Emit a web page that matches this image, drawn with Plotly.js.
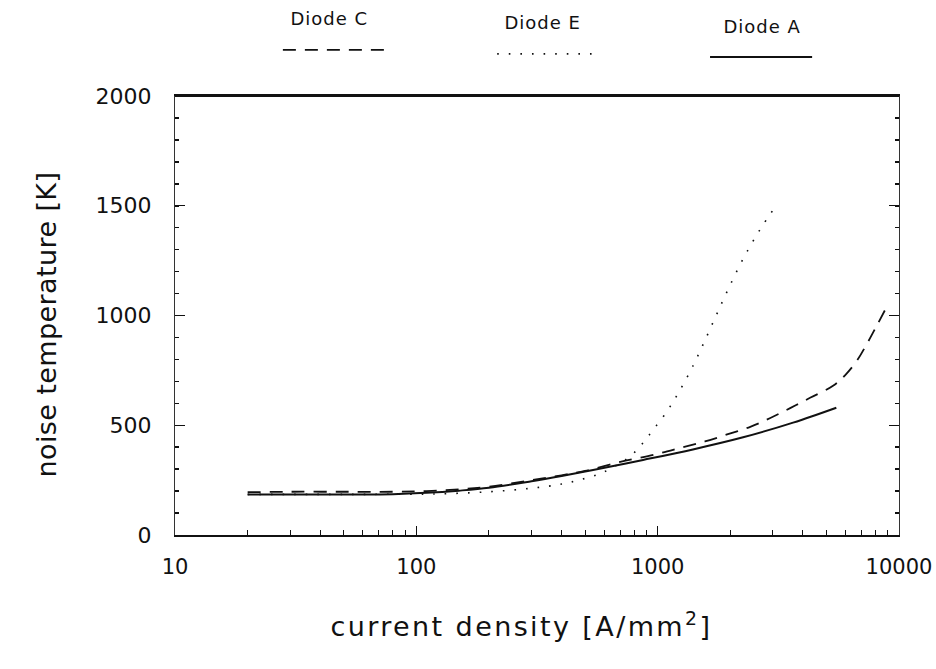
<!DOCTYPE html>
<html>
<head>
<meta charset="utf-8">
<script src="https://cdn.plot.ly/plotly-3.0.1.min.js"></script>
<style>
  html, body { margin: 0; padding: 0; background: #fff; }
  #chart { width: 936px; height: 669px; }
</style>
</head>
<body>
<div id="chart"></div>
<script>
// ---- data ----
const seriesNames = ["Diode C", "Diode E", "Diode A"];

const diodeC_x = [20, 30, 50, 80, 110, 150, 200, 300, 400, 500, 700, 1000, 1270, 1570, 1940, 2420, 2930, 3540, 4280, 5330, 6000, 6700, 7400, 8100, 8900];
const diodeC_y = [195, 197, 197, 197, 200, 208, 220, 250, 272, 292, 333, 370, 400, 426, 458, 493, 533, 578, 625, 680, 730, 795, 875, 955, 1040];

const diodeE_x = [20, 50, 100, 124, 200, 300, 400, 475, 585, 700, 780, 840, 900, 975, 1100, 1230, 1400, 1560, 1755, 1960, 2265, 2650, 3075];
const diodeE_y = [185, 185, 186, 187, 197, 213, 232, 251, 282, 328, 364, 400, 440, 490, 568, 655, 770, 880, 1005, 1120, 1260, 1390, 1496];

const diodeA_x = [20, 30, 50, 80, 110, 150, 200, 300, 400, 540, 870, 1400, 2260, 3640, 5500];
const diodeA_y = [185, 185, 185, 186, 192, 202, 215, 245, 269, 296, 342, 390, 445, 512, 580];

const xTickVals = [10, 100, 1000, 10000];
const xTickText = ["10", "100", "1000", "10000"];
const yTickVals = [0, 500, 1000, 1500, 2000];

const FONT = "DejaVu Sans, Liberation Sans, sans-serif";
const DASH_C = "13px,9px";
const DASH_E = "1.6px,10px";

const traces = [
  { x: diodeC_x, y: diodeC_y, name: seriesNames[0], mode: "lines",
    line: { color: "#111", width: 1.8, dash: DASH_C, shape: "spline", smoothing: 1 } },
  { x: diodeE_x, y: diodeE_y, name: seriesNames[1], mode: "lines",
    line: { color: "#111", width: 1.6, dash: DASH_E, shape: "spline", smoothing: 1 } },
  { x: diodeA_x, y: diodeA_y, name: seriesNames[2], mode: "lines",
    line: { color: "#111", width: 2, shape: "spline", smoothing: 1 } }
];

// legend layout (labels above, line samples below)
const legendTextX = [0.214, 0.508, 0.811];
const legendTextY = [1.176, 1.168, 1.158];
const legendLineX0 = [0.149, 0.445, 0.739];
const legendLineX1 = [0.290, 0.577, 0.880];
const legendLineY = [1.105, 1.096, 1.089];
const legendDashes = [DASH_C, DASH_E, "solid"];

const annotations = seriesNames.map((n, i) => ({
  xref: "paper", yref: "paper", x: legendTextX[i], y: legendTextY[i],
  text: n, showarrow: false, xanchor: "center", yanchor: "middle",
  font: { family: FONT, size: 18, color: "#111" }
}));
annotations.push({
  xref: "paper", yref: "paper", x: 0.478, y: -0.205,
  text: "current density [A/mm<sup>2</sup>]", showarrow: false,
  xanchor: "center", yanchor: "middle",
  font: { family: FONT, size: 27, color: "#111" }
});
annotations.push({
  xref: "paper", yref: "paper", x: -0.178, y: 0.478, textangle: -90,
  text: "noise temperature [K]", showarrow: false,
  xanchor: "center", yanchor: "middle",
  font: { family: FONT, size: 27, color: "#111" }
});

const shapes = seriesNames.map((n, i) => ({
  type: "line", xref: "paper", yref: "paper",
  x0: legendLineX0[i], x1: legendLineX1[i],
  y0: legendLineY[i], y1: legendLineY[i],
  line: { color: "#111", width: i === 2 ? 2 : 1.8, dash: legendDashes[i] }
}));
shapes.push({ type: "line", xref: "paper", yref: "paper", x0: 0, x1: 1, y0: 1, y1: 1,
  line: { color: "#111", width: 2 } });

const layout = {
  width: 936, height: 669,
  margin: { l: 175, r: 37, t: 96, b: 134 },
  paper_bgcolor: "#fff", plot_bgcolor: "#fff",
  showlegend: false,
  font: { family: FONT, color: "#111" },
  xaxis: {
    type: "log", range: [1, 4],
    tickvals: xTickVals, ticktext: xTickText,
    ticks: "inside", ticklen: 9, tickwidth: 1.2, tickcolor: "#111",
    minor: { ticks: "inside", ticklen: 5, tickwidth: 1, tickcolor: "#111", dtick: "D1", showgrid: false },
    showline: true, linecolor: "#111", linewidth: 2, mirror: true,
    showgrid: false, zeroline: false,
    tickfont: { family: FONT, size: 21, color: "#111" },
    ticklabelstandoff: 12
  },
  yaxis: {
    range: [0, 2000],
    tickvals: yTickVals,
    ticks: "inside", ticklen: 10, tickwidth: 1.2, tickcolor: "#111",
    minor: { ticks: "inside", ticklen: 4, tickwidth: 1.5, tickcolor: "#111", dtick: 100, showgrid: false },
    showline: true, linecolor: "#333", linewidth: 1, mirror: "ticks",
    showgrid: false, zeroline: false,
    tickfont: { family: FONT, size: 22, color: "#111" },
    ticklabelstandoff: 18
  },
  annotations: annotations,
  shapes: shapes
};

Plotly.newPlot("chart", traces, layout, { displayModeBar: false, staticPlot: true }).then(() => {
  const texts = document.querySelectorAll("#chart .annotation-text");
  texts.forEach(t => {
    const s = t.textContent;
    if (s.indexOf("current density") === 0) t.style.letterSpacing = "2.4px";
    else if (s.indexOf("noise") === 0) t.style.letterSpacing = "0.4px";
    else t.style.letterSpacing = "1px";
  });
});
</script>
</body>
</html>
